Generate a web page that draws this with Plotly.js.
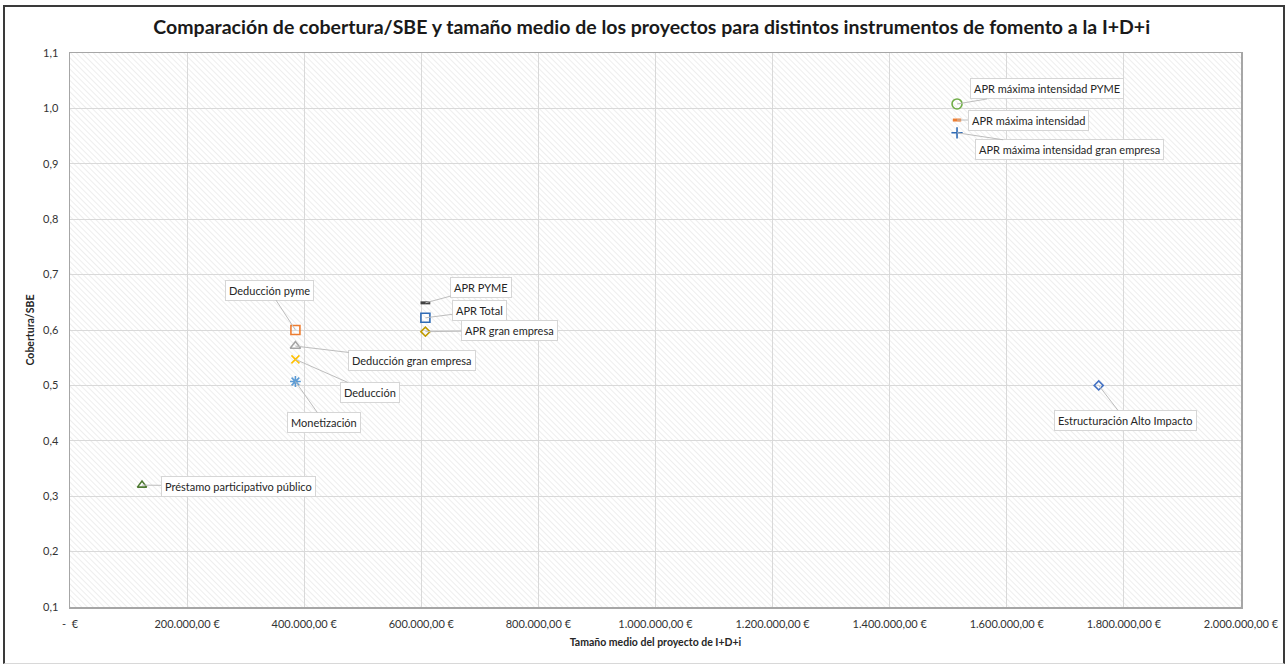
<!DOCTYPE html>
<html><head><meta charset="utf-8">
<script src="https://cdn.plot.ly/plotly-3.0.1.min.js"></script>
<style>
html,body{margin:0;padding:0;background:#fff;}
#wrap{position:relative;width:1288px;height:668px;}
#chart{width:1288px;height:668px;}
#frame{position:absolute;left:3px;top:5px;width:1278px;height:656px;border-left:2px solid #3a3a3a;border-top:2px solid #3a3a3a;border-right:2px solid #3a3a3a;border-bottom:1px solid #d8d8d8;pointer-events:none;}
</style></head>
<body><div id="wrap"><div id="chart"></div><div id="frame"></div></div>
<script>
// Data
const names = ["Préstamo participativo público","Deducción pyme","Deducción gran empresa","Deducción","Monetización","APR PYME","APR Total","APR gran empresa","APR máxima intensidad PYME","APR máxima intensidad","APR máxima intensidad gran empresa","Estructuración Alto Impacto"];
const tamanoMedio = [123000, 385000, 385000, 385000, 385000, 607000, 607000, 607000, 1515000, 1515000, 1515000, 1757000];
const cobertura = [0.32, 0.600, 0.571, 0.547, 0.507, 0.649, 0.622, 0.597, 1.008, 0.979, 0.956, 0.500];
const xTickVals = [0,200000,400000,600000,800000,1000000,1200000,1400000,1600000,1800000,2000000];
const xTickText = ["-  €","200.000,00 €","400.000,00 €","600.000,00 €","800.000,00 €","1.000.000,00 €","1.200.000,00 €","1.400.000,00 €","1.600.000,00 €","1.800.000,00 €","2.000.000,00 €"];
const yTickVals = [0.1,0.2,0.3,0.4,0.5,0.6,0.7,0.8,0.9,1.0,1.1];
const yTickText = ["0,1","0,2","0,3","0,4","0,5","0,6","0,7","0,8","0,9","1,0","1,1"];

// Styles
const symbols = ["triangle-up-open","square-open","triangle-up-open","x-thin-open","asterisk-open","line-ew-open","square-open","diamond-open","circle-open","line-ew-open","cross-thin-open","diamond-open"];
const colors = ["#4e7a32","#ED7D31","#A5A5A5","#FFC000","#5B9BD5","#404040","#2f6bb5","#BF9A00","#70AD47","#ED7D31","#2f6bb5","#4472C4"];
const sizes = [8,9,9,8,9,7,9,7,10,6,8,7];
const labelOffsets = [[96,1],[-26,-40],[117,14],[75,33],[29,41],[56,-15],[54,-7],[84,-1],[90,-15],[71,0],[112,17],[27,35]];

const FONT = "Lato, 'Open Sans', sans-serif";
const traces = names.map((n,i)=>({
  type:'scatter', mode:'markers', name:n,
  x:[tamanoMedio[i]], y:[cobertura[i]],
  marker:{symbol:symbols[i], size:sizes[i], color:colors[i], line:{color:colors[i], width:(symbols[i].startsWith('line')?3:1.6)}},
  hoverinfo:'name'
}));

const annotations = names.map((n,i)=>({
  x:tamanoMedio[i], y:cobertura[i], xref:'x', yref:'y',
  text:n, showarrow:true, arrowhead:0, arrowwidth:1, arrowcolor:'#bdbdbd',
  ax:labelOffsets[i][0], ay:labelOffsets[i][1],
  bgcolor:'#ffffff', bordercolor:'#d6d6d6', borderwidth:1, borderpad:3,
  font:{family:FONT, size:11, color:'#262626'}
}));

// hatch background image sized to plot area
const W = 1171, H = 554;
const svg = `<svg xmlns="http://www.w3.org/2000/svg" width="${W}" height="${H}"><defs><pattern id="p" width="4" height="4" patternUnits="userSpaceOnUse" patternTransform="rotate(-45)"><rect width="4" height="4" fill="#ffffff"/><line x1="0" y1="0" x2="0" y2="4" stroke="#e0e0e0" stroke-width="1.1"/></pattern></defs><rect width="${W}" height="${H}" fill="url(#p)"/></svg>`;
const img = 'data:image/svg+xml;charset=utf-8,' + encodeURIComponent(svg);

const layout = {
  width:1288, height:668,
  margin:{l:70, r:47, t:53, b:61},
  paper_bgcolor:'#ffffff', plot_bgcolor:'rgba(0,0,0,0)',
  showlegend:false,
  title:{text:'<b>Comparación de cobertura/SBE y tamaño medio de los proyectos para distintos instrumentos de fomento a la I+D+i</b>',
    x:0.506, xref:'container', xanchor:'center', y:0.96, yref:'container', yanchor:'middle',
    font:{family:FONT, size:19.5, color:'#1a1a1a'}},
  xaxis:{range:[0,2000000], tickvals:xTickVals, ticktext:xTickText, showgrid:true, gridcolor:'#d9d9d9', gridwidth:1,
    zeroline:false, showline:true, linecolor:'#a6a6a6', linewidth:1.5, mirror:true, ticks:'', ticklen:0, ticklabelstandoff:6,
    tickfont:{family:FONT, size:11, color:'#333'},
    title:{text:'<b>Tamaño medio del proyecto de I+D+i</b>', font:{family:FONT, size:10.5, color:'#262626'}, standoff:10}},
  yaxis:{range:[0.1,1.1], tickvals:yTickVals, ticktext:yTickText, showgrid:true, gridcolor:'#d9d9d9', gridwidth:1,
    zeroline:false, showline:true, linecolor:'#a6a6a6', linewidth:1.5, mirror:true, ticks:'', ticklabelstandoff:8,
    tickfont:{family:FONT, size:11, color:'#333'},
    title:{text:'<b>Cobertura/SBE</b>', font:{family:FONT, size:10.5, color:'#262626'}, standoff:6}},
  images:[{source:img, xref:'paper', yref:'paper', x:0, y:1, sizex:1, sizey:1, xanchor:'left', yanchor:'top', sizing:'stretch', layer:'below'}],
  annotations:annotations
};
Plotly.newPlot('chart', traces, layout, {displayModeBar:false, staticPlot:true});
</script></body></html>
